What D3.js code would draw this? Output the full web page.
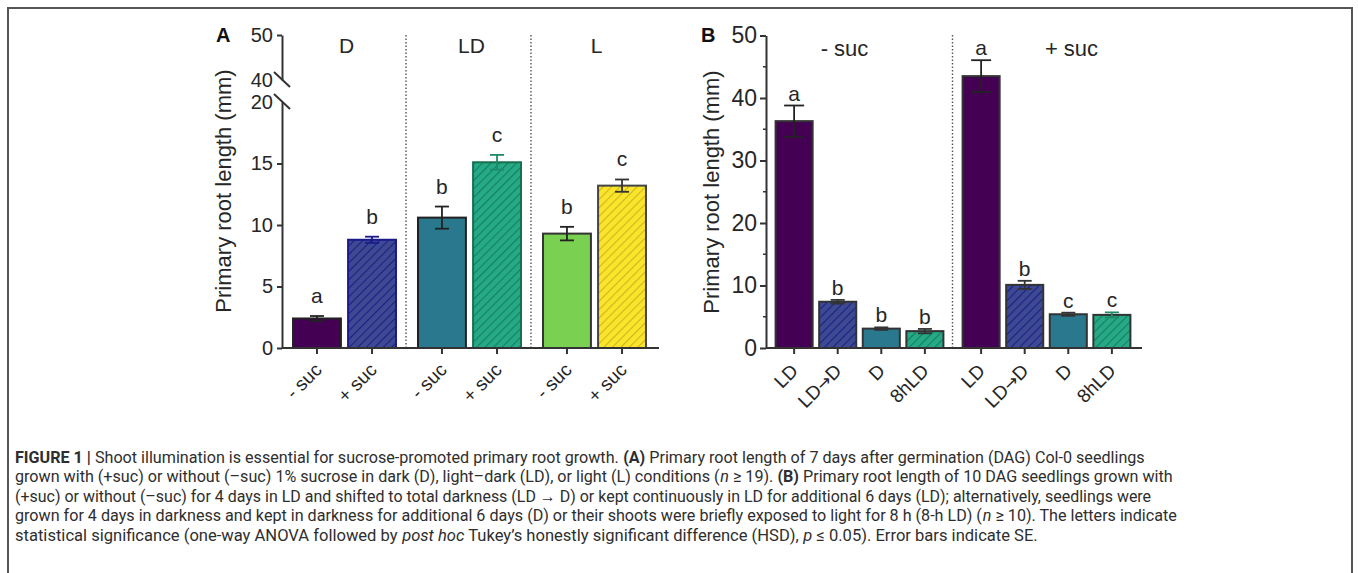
<!DOCTYPE html>
<html>
<head>
<meta charset="utf-8">
<title>Figure 1 - primary root length</title>
<script src="https://cdn.jsdelivr.net/npm/d3@7"></script>
<style>
  body { margin: 0; background: #fff; }
  svg text { font-family: "Liberation Sans", Arial, sans-serif; }
  .cap text { font-family: "Roboto", "Liberation Sans", sans-serif; white-space: pre; }
</style>
</head>
<body>
<svg id="fig" width="1358" height="573"></svg>
<script>
// panel A data
var groupsA  = ["D", "LD", "L"];
var sucA     = ["- suc", "+ suc"];
var valuesA  = [2.4, 8.8, 10.6, 15.1, 9.3, 13.2];
var errorsA  = [0.2, 0.25, 0.9, 0.6, 0.55, 0.5];
var lettersA = ["a", "b", "b", "c", "b", "c"];

// panel B data
var groupsB  = ["- suc", "+ suc"];
var treatB   = ["LD", "LD\u2192D", "D", "8hLD"];
var valuesB  = [36.3, 7.4, 3.1, 2.7, 43.5, 10.1, 5.4, 5.3];
var errorsB  = [2.5, 0.3, 0.2, 0.35, 2.55, 0.65, 0.25, 0.4];
var lettersB = ["a", "b", "b", "b", "a", "b", "c", "c"];

var svg = d3.select("#fig");
var ink = "#262626";

// hatch patterns
var defs = svg.append("defs");
function hatch(id, base, line) {
    var p = defs.append("pattern").attr("id", id)
        .attr("patternUnits", "userSpaceOnUse")
        .attr("width", 6).attr("height", 6)
        .attr("patternTransform", "rotate(45)");
    p.append("rect").attr("width", 6).attr("height", 6).attr("fill", base);
    p.append("line").attr("x1", 0).attr("y1", 0).attr("x2", 0).attr("y2", 6)
        .attr("stroke", line).attr("stroke-width", 2.2);
}
hatch("hNavy", "#3d4a92", "#1b1f86");
hatch("hGreen", "#25a986", "#15805d");
hatch("hYellow", "#fbe52a", "#cdb522");

var fillA   = ["#440154", "url(#hNavy)", "#2a788e", "url(#hGreen)", "#7ad151", "url(#hYellow)"];
var strokeA = ["#222", "#1a1a8a", "#222", "#16704f", "#333", "#444"];
var errColA = ["#222", "#1a1a8a", "#222", "#1f8a68", "#222", "#333"];
var fillB   = ["#440154", "url(#hNavy)", "#2a788e", "url(#hGreen)"];
var errColB = ["#222", "#333", "#333", "#333", "#222", "#333", "#333", "#1f8a68"];

// frame
svg.append("rect").attr("x", 8).attr("y", 8).attr("width", 1344).attr("height", 620)
    .attr("fill", "none").attr("stroke", "#555").attr("stroke-width", 2);

// ---------------- panel A ----------------
var gA = svg.append("g");
var x0A = 282, x1A = 659, baseA = 348;
var yLow  = d3.scaleLinear().domain([0, 20]).range([baseA, 102]);
var yHigh = d3.scaleLinear().domain([40, 50]).range([80, 35]);
var gxA = d3.scaleBand().domain(groupsA).range([x0A, x0A + 375]);
var ixA = d3.scaleBand().domain(sucA).range([0, gxA.bandwidth()]).paddingInner(0.13).paddingOuter(0.2);

var barsA = [];
groupsA.forEach(function (g, gi) {
    sucA.forEach(function (s, si) {
        var i = gi * 2 + si;
        barsA.push({ g: g, s: s, v: valuesA[i], e: errorsA[i], l: lettersA[i], i: i,
                     x: gxA(g) + ixA(s) });
    });
});

// separators
[1, 2].forEach(function (k) {
    var sx = (gxA(groupsA[k - 1]) + gxA.bandwidth() + gxA(groupsA[k])) / 2 - 1;
    gA.append("line").attr("x1", sx).attr("x2", sx).attr("y1", 35).attr("y2", baseA)
        .attr("stroke", "#555").attr("stroke-width", 1.4).attr("stroke-dasharray", "1.5,2");
});

gA.selectAll("rect.bar").data(barsA).enter().append("rect")
    .attr("x", function (d) { return d.x; })
    .attr("y", function (d) { return yLow(d.v); })
    .attr("width", ixA.bandwidth())
    .attr("height", function (d) { return baseA - yLow(d.v); })
    .attr("fill", function (d) { return fillA[d.i]; })
    .attr("stroke", function (d) { return strokeA[d.i]; })
    .attr("stroke-width", 2);

var errA = gA.selectAll("g.err").data(barsA).enter().append("g")
    .attr("stroke", function (d) { return errColA[d.i]; }).attr("stroke-width", 1.8);
errA.each(function (d) {
    var cx = d.x + ixA.bandwidth() / 2, sel = d3.select(this);
    sel.append("line").attr("x1", cx).attr("x2", cx)
        .attr("y1", yLow(d.v + d.e)).attr("y2", yLow(d.v - d.e));
    [d.v + d.e, d.v - d.e].forEach(function (v) {
        sel.append("line").attr("x1", cx - 7).attr("x2", cx + 7)
            .attr("y1", yLow(v)).attr("y2", yLow(v));
    });
});

gA.selectAll("text.let").data(barsA).enter().append("text")
    .attr("x", function (d) { return d.x + ixA.bandwidth() / 2; })
    .attr("y", function (d) { return yLow(d.v + d.e) - 13; })
    .attr("text-anchor", "middle").attr("font-size", 21).attr("fill", ink)
    .text(function (d) { return d.l; });

// y axis A, lower and upper parts with break
var axLow = gA.append("g").attr("transform", "translate(" + x0A + ",0)")
    .call(d3.axisLeft(yLow).tickValues([0, 5, 10, 15, 20]).tickSize(5).tickSizeOuter(0));
var axHigh = gA.append("g").attr("transform", "translate(" + x0A + ",0)")
    .call(d3.axisLeft(yHigh).tickValues([40, 50]).tickSize(5).tickSizeOuter(0));
[axLow, axHigh].forEach(function (ax) {
    ax.select(".domain").attr("stroke", "#333").attr("stroke-width", 2);
    ax.selectAll(".tick line").attr("stroke", "#333").attr("stroke-width", 2);
    ax.selectAll(".tick text").attr("font-size", 20).attr("fill", ink)
        .attr("font-family", "Liberation Sans, Arial, sans-serif").attr("x", -9);
    ax.selectAll(".tick").filter(function (d) { return d === 20 || d === 40; })
        .select("line").remove();
});
[yHigh(40), yLow(20)].forEach(function (by) {
    gA.append("line").attr("x1", x0A - 8).attr("x2", x0A + 8)
        .attr("y1", by - 8).attr("y2", by + 7)
        .attr("stroke", "#333").attr("stroke-width", 2);
});

// x axis A
gA.append("line").attr("x1", x0A).attr("x2", x1A).attr("y1", baseA).attr("y2", baseA)
    .attr("stroke", "#333").attr("stroke-width", 2);
gA.selectAll("line.xt").data(barsA).enter().append("line")
    .attr("x1", function (d) { return d.x + ixA.bandwidth() / 2; })
    .attr("x2", function (d) { return d.x + ixA.bandwidth() / 2; })
    .attr("y1", baseA).attr("y2", baseA + 6)
    .attr("stroke", "#333").attr("stroke-width", 2);
gA.selectAll("text.xl").data(barsA).enter().append("text")
    .attr("transform", function (d) {
        return "translate(" + (d.x + ixA.bandwidth() / 2 + 6) + "," + 371 + ") rotate(-45)";
    })
    .attr("text-anchor", "end").attr("font-size", 19).attr("fill", ink)
    .text(function (d) { return d.s; });

gA.selectAll("text.hd").data(groupsA).enter().append("text")
    .attr("x", function (d) { return gxA(d) + gxA.bandwidth() / 2 + 2; })
    .attr("y", 53).attr("text-anchor", "middle").attr("font-size", 21).attr("fill", ink)
    .text(function (d) { return d; });

gA.append("text").attr("transform", "translate(231,191) rotate(-90)")
    .attr("text-anchor", "middle").attr("font-size", 22).attr("fill", ink)
    .text("Primary root length (mm)");
gA.append("text").attr("x", 216).attr("y", 42).attr("font-size", 20)
    .attr("font-weight", "bold").attr("fill", "#111").text("A");

// ---------------- panel B ----------------
var gB = svg.append("g");
var x0B = 766, x1B = 1142, baseB = 348;
var yB = d3.scaleLinear().domain([0, 50]).range([baseB, 35.5]);
var gxB = d3.scaleBand().domain(groupsB).range([x0B, x0B + 374]);
var ixB = d3.scaleBand().domain(treatB).range([0, gxB.bandwidth()]).paddingInner(0.15).paddingOuter(0.22);

var barsB = [];
groupsB.forEach(function (g, gi) {
    treatB.forEach(function (t, ti) {
        var i = gi * 4 + ti;
        barsB.push({ g: g, t: t, ti: ti, v: valuesB[i], e: errorsB[i], l: lettersB[i], i: i,
                     x: gxB(g) + ixB(t) });
    });
});

var sepB = gxB(groupsB[1]) - 0.5;
gB.append("line").attr("x1", sepB).attr("x2", sepB).attr("y1", 35).attr("y2", baseB)
    .attr("stroke", "#555").attr("stroke-width", 1.4).attr("stroke-dasharray", "1.5,2");

gB.selectAll("rect.bar").data(barsB).enter().append("rect")
    .attr("x", function (d) { return d.x; })
    .attr("y", function (d) { return yB(d.v); })
    .attr("width", ixB.bandwidth())
    .attr("height", function (d) { return baseB - yB(d.v); })
    .attr("fill", function (d) { return fillB[d.ti]; })
    .attr("stroke", "#333").attr("stroke-width", 2);

var errB = gB.selectAll("g.err").data(barsB).enter().append("g")
    .attr("stroke", function (d) { return errColB[d.i]; }).attr("stroke-width", 1.8);
errB.each(function (d) {
    var cx = d.x + ixB.bandwidth() / 2, sel = d3.select(this);
    sel.append("line").attr("x1", cx).attr("x2", cx)
        .attr("y1", yB(d.v + d.e)).attr("y2", yB(d.v - d.e));
    var hw = d.v > 20 ? 10 : 7;
    [d.v + d.e, d.v - d.e].forEach(function (v) {
        sel.append("line").attr("x1", cx - hw).attr("x2", cx + hw)
            .attr("y1", yB(v)).attr("y2", yB(v));
    });
});

gB.selectAll("text.let").data(barsB).enter().append("text")
    .attr("x", function (d) { return d.x + ixB.bandwidth() / 2; })
    .attr("y", function (d) { return yB(d.v + d.e) - 5; })
    .attr("text-anchor", "middle").attr("font-size", 21).attr("fill", ink)
    .text(function (d) { return d.l; });

var axB = gB.append("g").attr("transform", "translate(" + x0B + ",0)")
    .call(d3.axisLeft(yB).tickValues(d3.range(0, 51, 10)).tickSize(6).tickSizeOuter(0));
axB.select(".domain").attr("stroke", "#333").attr("stroke-width", 2);
axB.selectAll(".tick line").attr("stroke", "#333").attr("stroke-width", 2);
axB.selectAll(".tick text").attr("font-size", 23).attr("fill", ink)
    .attr("font-family", "Liberation Sans, Arial, sans-serif").attr("x", -9);
gB.selectAll("line.minor").data(d3.range(5, 50, 10)).enter().append("line")
    .attr("x1", x0B - 3).attr("x2", x0B).attr("y1", yB).attr("y2", yB)
    .attr("stroke", "#333").attr("stroke-width", 1.5);

gB.append("line").attr("x1", x0B).attr("x2", x1B).attr("y1", baseB).attr("y2", baseB)
    .attr("stroke", "#333").attr("stroke-width", 2);
gB.selectAll("line.xt").data(barsB).enter().append("line")
    .attr("x1", function (d) { return d.x + ixB.bandwidth() / 2; })
    .attr("x2", function (d) { return d.x + ixB.bandwidth() / 2; })
    .attr("y1", baseB).attr("y2", baseB + 6)
    .attr("stroke", "#333").attr("stroke-width", 2);
// tick labels, the arrow taken from DejaVu so it is not tiny
gB.selectAll("text.xl").data(barsB).enter().append("text")
    .attr("transform", function (d) {
        return "translate(" + (d.x + ixB.bandwidth() / 2 + 5) + "," + 372 + ") rotate(-45)";
    })
    .attr("text-anchor", "end").attr("font-size", 19).attr("fill", ink)
    .each(function (d) {
        var parts = d.t.split("\u2192"), sel = d3.select(this);
        sel.append("tspan").text(parts[0]);
        if (parts.length > 1) {
            sel.append("tspan").attr("font-family", "DejaVu Sans").attr("font-size", 17).text("\u2192");
            sel.append("tspan").text(parts[1]);
        }
    });

var hdOff = [-15, 25];
gB.selectAll("text.hd").data(groupsB).enter().append("text")
    .attr("x", function (d, i) { return gxB(d) + gxB.bandwidth() / 2 + hdOff[i]; })
    .attr("y", 56).attr("text-anchor", "middle").attr("font-size", 22).attr("fill", ink)
    .text(function (d) { return d; });

gB.append("text").attr("transform", "translate(719,192) rotate(-90)")
    .attr("text-anchor", "middle").attr("font-size", 22).attr("fill", ink)
    .text("Primary root length (mm)");
gB.append("text").attr("x", 701).attr("y", 42).attr("font-size", 20)
    .attr("font-weight", "bold").attr("fill", "#111").text("B");

// ---------------- caption ----------------
var capLines = [
    [["b", "FIGURE 1 | "], ["", "Shoot illumination is essential for sucrose-promoted primary root growth. "], ["b", "(A)"], ["", " Primary root length of 7 days after germination (DAG) Col-0 seedlings"]],
    [["", "grown with (+suc) or without (\u2013suc) 1% sucrose in dark (D), light\u2013dark (LD), or light (L) conditions ("], ["i", "n"], ["", " \u2265 19). "], ["b", "(B)"], ["", " Primary root length of 10 DAG seedlings grown with"]],
    [["", "(+suc) or without (\u2013suc) for 4 days in LD and shifted to total darkness (LD \u2192 D) or kept continuously in LD for additional 6 days (LD); alternatively, seedlings were"]],
    [["", "grown for 4 days in darkness and kept in darkness for additional 6 days (D) or their shoots were briefly exposed to light for 8 h (8-h LD) ("], ["i", "n"], ["", " \u2265 10). The letters indicate"]],
    [["", "statistical significance (one-way ANOVA followed by "], ["i", "post hoc"], ["", " Tukey\u2019s honestly significant difference (HSD), "], ["i", "p"], ["", " \u2264 0.05). Error bars indicate SE."]]
];
var capWidths = [1130, 1158, 1137, 1162, 1023];
var cap = svg.append("g").attr("class", "cap");
capLines.forEach(function (parts, li) {
    var line = cap.append("g");
    var cursor = 0;
    parts.forEach(function (p) {
        var t = line.append("text").attr("x", cursor).attr("y", 0)
            .attr("font-size", 17).attr("fill", "#2e2e2e").text(p[1]);
        if (p[0] === "b") t.attr("font-weight", "bold");
        if (p[0] === "i") t.attr("font-style", "italic");
        cursor += t.node().getComputedTextLength();
    });
    var sx = capWidths[li] / cursor;
    line.attr("transform", "translate(15," + (463 + li * 19.4) + ") scale(" + sx + ",1)");
});
</script>
</body>
</html>
